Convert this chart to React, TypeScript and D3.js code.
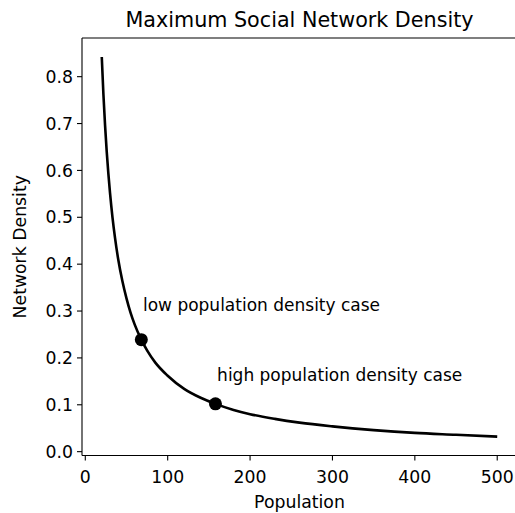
import * as d3 from "d3";

const WIDTH = 515;
const HEIGHT = 513;

// values
const population = [20, 22, 24, 26, 28, 30, 33, 36, 40, 45, 50, 55, 60, 68, 75, 85, 100, 120, 140, 158, 180, 200, 230, 260, 300, 350, 400, 450, 500];
const density = [0.842, 0.762, 0.696, 0.64, 0.593, 0.552, 0.5, 0.457, 0.41, 0.364, 0.327, 0.296, 0.271, 0.239, 0.216, 0.19, 0.162, 0.134, 0.115, 0.102, 0.089, 0.08, 0.07, 0.062, 0.054, 0.046, 0.04, 0.036, 0.032];

const markedPoints = [
    { population: 68, density: 0.239, label: "low population density case", labelX: 70, labelY: 0.3 },
    { population: 158, density: 0.102, label: "high population density case", labelX: 160, labelY: 0.15 },
];

const xTicks = [0, 100, 200, 300, 400, 500];
const yTicks = [0.0, 0.1, 0.2, 0.3, 0.4, 0.5, 0.6, 0.7, 0.8];

const FONT = "'DejaVu Sans', sans-serif";

export default function App() {
    const plot = { left: 82, top: 38, right: 517, bottom: 455.5 };

    const x = d3.scaleLinear().domain([-4, 524]).range([plot.left, plot.right]);
    const y = d3.scaleLinear().domain([-0.0082, 0.8825]).range([plot.bottom, plot.top]);

    const points = population.map((p, i) => ({ p, d: density[i] }));
    const line = d3
        .line<{ p: number; d: number }>()
        .x((v) => x(v.p))
        .y((v) => y(v.d))
        .curve(d3.curveMonotoneX);

    return (
        <div style={{ position: "absolute", left: 0, top: 0 }}>
            <svg width={WIDTH} height={HEIGHT} style={{ display: "block", background: "#fff" }} fontFamily={FONT}>
                <text x={(plot.left + plot.right) / 2} y={27} textAnchor="middle" fontSize={20.7} fill="#000">
                    Maximum Social Network Density
                </text>

                <path d={line(points) ?? ""} fill="none" stroke="#000" strokeWidth={2.6} />

                {markedPoints.map((m) => (
                    <g key={m.label}>
                        <circle cx={x(m.population)} cy={y(m.density)} r={6.5} fill="#000" />
                        <text x={x(m.labelX)} y={y(m.labelY)} fontSize={17} fill="#000">
                            {m.label}
                        </text>
                    </g>
                ))}

                {/* spines */}
                <line x1={plot.left} x2={plot.left} y1={plot.top} y2={plot.bottom} stroke="#000" strokeWidth={1.1} />
                <line x1={plot.left} x2={plot.right} y1={plot.bottom} y2={plot.bottom} stroke="#000" strokeWidth={1.1} />
                <line x1={plot.left} x2={plot.right} y1={plot.top} y2={plot.top} stroke="#000" strokeWidth={1.1} />
                <line x1={plot.right} x2={plot.right} y1={plot.top} y2={plot.bottom} stroke="#000" strokeWidth={1.1} />

                {xTicks.map((t) => (
                    <g key={t} transform={`translate(${x(t)},${plot.bottom})`}>
                        <line y1={0} y2={5} stroke="#000" strokeWidth={1.1} />
                        <text y={27} textAnchor="middle" fontSize={17.3} fill="#000">
                            {t}
                        </text>
                    </g>
                ))}

                {yTicks.map((t) => (
                    <g key={t} transform={`translate(${plot.left},${y(t)})`}>
                        <line x1={-5} x2={0} stroke="#000" strokeWidth={1.1} />
                        <text x={-9} y={6.2} textAnchor="end" fontSize={17.3} fill="#000">
                            {t.toFixed(1)}
                        </text>
                    </g>
                ))}

                <text x={(plot.left + plot.right) / 2} y={508} textAnchor="middle" fontSize={17.3} fill="#000">
                    Population
                </text>
                <text
                    transform={`translate(26,${(plot.top + plot.bottom) / 2}) rotate(-90)`}
                    textAnchor="middle"
                    fontSize={17.3}
                    fill="#000"
                >
                    Network Density
                </text>
            </svg>
        </div>
    );
}
